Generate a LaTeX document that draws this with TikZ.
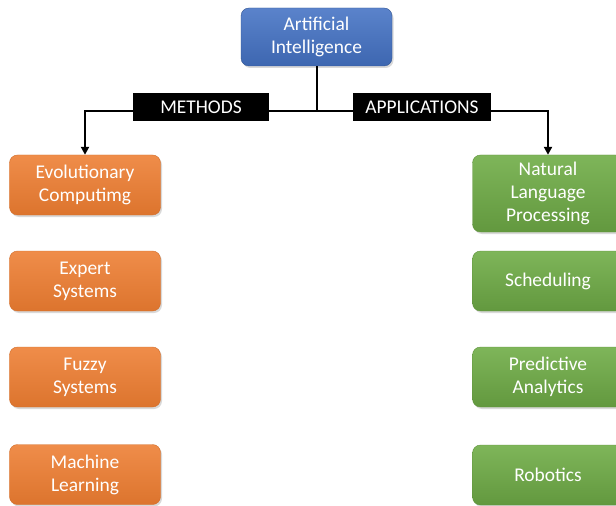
\documentclass[tikz,border=0pt]{standalone}
\usepackage{fontspec}
\setmainfont{Carlito}
\usepackage{tikz}
\usetikzlibrary{
    calc,
    positioning,
    arrows.meta,
    shadows
}
\definecolor{aiblue}{HTML}{4472C4}
\definecolor{methodorange}{HTML}{ED7D31}
\definecolor{appgreen}{HTML}{70AD47}
\tikzset{
    line/.style = {
        line width = 2bp,
        ->,
        > = {
            Triangle[length=2.8mm, width=2.8mm]
        }
    },
    arrow/.style = {
        line
    },
    % Any box:
    base node/.style = {
        rectangle,
        rounded corners = 8bp,
        minimum width = 151bp,
        minimum height = 60bp,
        align = center,
        text = white,
        font = \fontsize{19.5}{23}\selectfont,
        drop shadow = {shadow xshift=1.5bp, shadow yshift=-2bp, opacity=0.3}
    },
    % Root concept:
    concept node/.style = {
        base node,
        minimum height = 58bp,
        top color = aiblue!88!white,
        bottom color = aiblue!90!black,
        draw = aiblue!75!black
    },
    % Method:
    method node/.style = {
        base node,
        top color = methodorange!88!white,
        bottom color = methodorange!93!black,
        draw = methodorange!88!black
    },
    % Application:
    application node/.style = {
        base node,
        top color = appgreen!90!white,
        bottom color = appgreen!88!black,
        draw = appgreen!85!black
    },
    % Branch label:
    branch label/.style = {
        rectangle,
        fill = black,
        text = white,
        minimum height = 28bp,
        inner xsep = 0pt,
        font = \fontsize{19.5}{23}\selectfont
    }
}

\begin{document}
\begin{tikzpicture}[x=1bp, y=-1bp]
    \useasboundingbox (0, 0) rectangle (616, 506);
    \node [concept node] (ai) at (316.5, 37) {Artificial\\Intelligence};
    % Methods column
    \node [method node] (evo) at (85, 185) {Evolutionary\\Computimg};
    \node [method node] (expert) at (85, 281) {Expert\\Systems};
    \node [method node] (fuzzy) at (85, 377) {Fuzzy\\Systems};
    \node [method node] (ml) at (85, 474.5) {Machine\\Learning};
    % Applications column
    \node [application node, minimum height=77bp] (nlp) at (548, 193.5) {Natural\\Language\\Processing};
    \node [application node] (sched) at (548, 281) {Scheduling};
    \node [application node] (pred) at (548, 377) {Predictive\\Analytics};
    \node [application node] (robot) at (548, 475) {Robotics};
    % Connectors
    \coordinate (split) at (316.5, 111);
    \draw [line width=2bp] (ai.south) -- (split);
    \draw [arrow] (split) -| (evo.north);
    \draw [arrow] (split) -| (nlp.north);
    % Labels go on top of the lines.
    \node [branch label, minimum width=136bp] (methods) at (201, 107) {METHODS};
    \node [branch label, minimum width=138bp] (apps) at (422, 107) {APPLICATIONS};
\end{tikzpicture}
\end{document}
